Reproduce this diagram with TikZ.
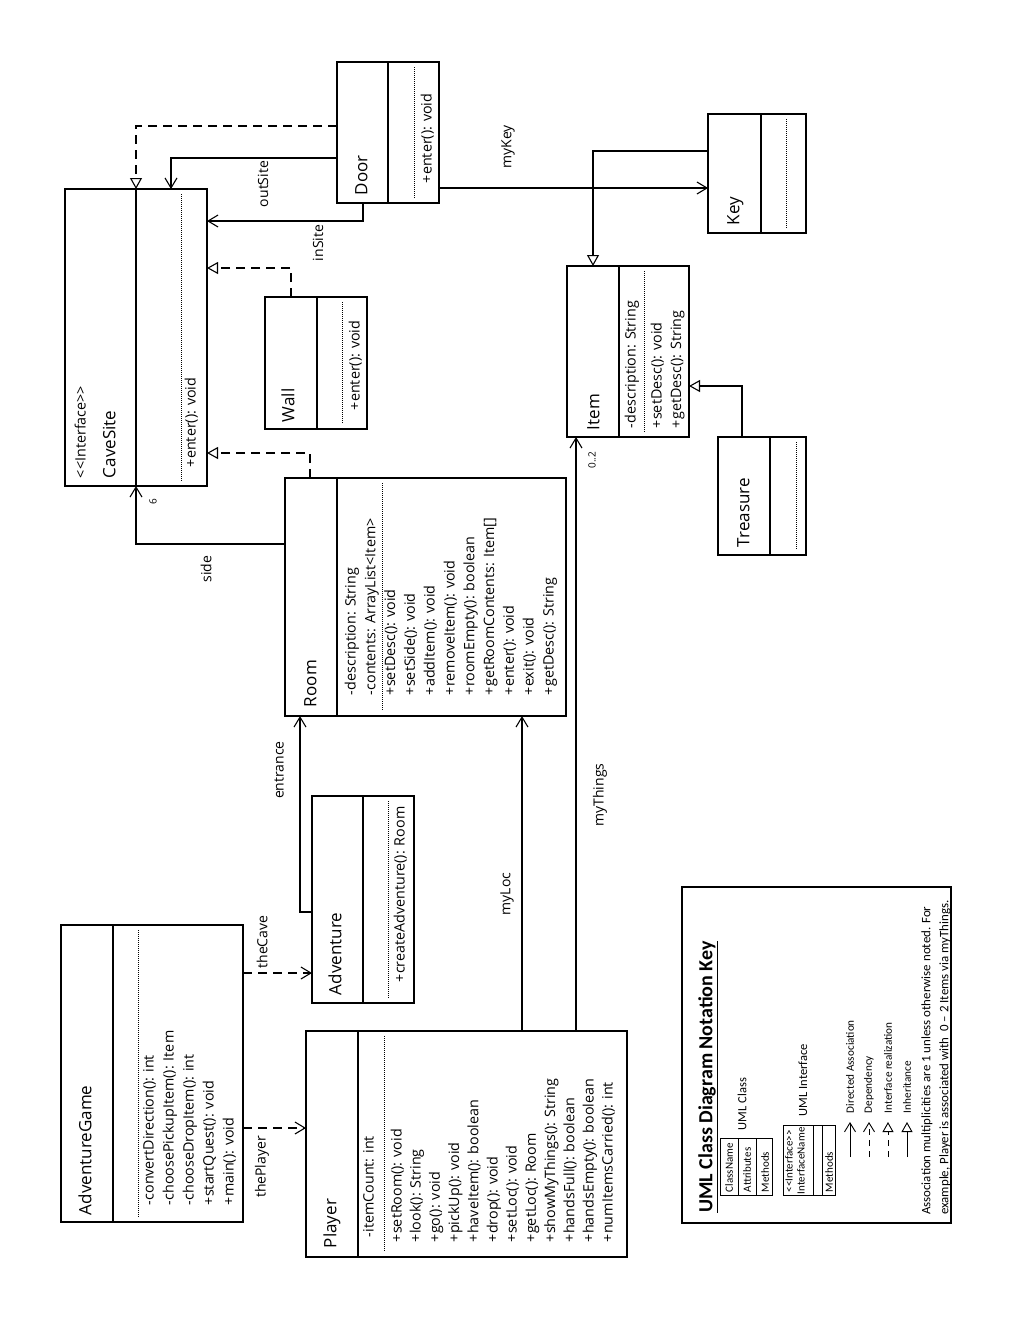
\documentclass[tikz,border=0pt]{standalone}
\usepackage{fontspec}
\setmainfont{Open Sans}
\newfontfamily\legendfont{Carlito}
\usetikzlibrary{arrows.meta}

\newcommand\umlbox[7]{%
  \node[box, anchor=north west, minimum width={(#4)-(#2)}, minimum height={(#5)-(#3)}] (#1) at (#2,#3) {};
  \draw[sepline] (#6,#3) -- (#6,#5);
  \draw[dotline] (#7,#3+5) -- (#7,#5-5);
}
\newcommand\tlines[5]{%
  \foreach \mytext [count=\myi] in {#5} {\node[txt] (#1\myi) at ({#2+(\myi-1)*(#3)},#4) {\mytext};}
}
\newcommand\ifc{<\kern0pt<Interface>\kern0pt>}

\begin{document}
\begin{tikzpicture}[x=1pt,y=-1pt,
  box/.style={draw, line width=1.2pt, rectangle, inner sep=0, outer sep=0},
  sepline/.style={line width=1.4pt},
  dotline/.style={line width=0.6pt, dash pattern=on 1pt off 1pt},
  txt/.style={rotate=90, anchor=west, inner sep=0, outer sep=0, font=\fontsize{14.3}{17}\selectfont, text height=10.5pt, text depth=3.5pt},
  nm/.style={rotate=90, anchor=west, inner sep=0, outer sep=0, font=\fontsize{17}{20}\selectfont, text height=12.5pt, text depth=4pt},
  lbl/.style={rotate=90, anchor=center, inner sep=0, font=\fontsize{14}{17}\selectfont},
  small/.style={rotate=90, anchor=center, inner sep=0, font=\fontsize{10}{12}\selectfont},
  assoc/.style={line width=1.1pt, -{Straight Barb[length=10pt,width=12pt]}},
  dep/.style={assoc, dash pattern=on 9pt off 6pt},
  real/.style={line width=1.1pt, dash pattern=on 9pt off 6pt, -{Triangle[open,length=11pt,width=12pt]}},
  inh/.style={line width=1.1pt, -{Triangle[open,length=11pt,width=12pt]}},
  ltxt/.style={rotate=90, anchor=west, inner sep=0, outer sep=0, font=\legendfont\fontsize{11.2}{13}\selectfont},
  lbox/.style={rotate=90, anchor=west, inner sep=0, outer sep=0, font=\legendfont\fontsize{11}{12}\selectfont},
]
\useasboundingbox (0,0) rectangle (1020,1320);
\fill[white] (0,0) rectangle (1020,1320);

% ---------- class boxes ----------
\umlbox{cavesite}{65}{189}{207}{486}{136}{181}
\node[txt] (cs1) at (82,478) {\ifc};
\node[nm] (cs2) at (111,478) {CaveSite};
\node[txt] (cs3) at (192,467) {+enter(): void};

\umlbox{door}{337}{62}{439}{203}{388}{414}
\node[nm] (doorn) at (363,195) {Door};
\node[txt] (doorm) at (428,183) {+enter(): void};

\umlbox{wall}{265}{297}{367}{429}{317}{342}
\node[nm] (walln) at (290,422) {Wall};
\node[txt] (wallm) at (356,410) {+enter(): void};

\umlbox{room}{285}{478}{566}{716}{337}{382}
\node[nm] (roomn) at (312,707) {Room};
\tlines{roomt}{352}{19.8}{695}{-description: String,-contents: ArrayList<Item>,+setDesc(): void,+setSide(): void,+addItem(): void,+removeItem(): void,+roomEmpty(): boolean,+getRoomContents: Item[],+enter(): void,+exit(): void,+getDesc(): String}

\umlbox{adventure}{312}{796}{414}{1003}{363}{388}
\node[nm] (advn) at (337,995) {Adventure};
\node[txt] (advm) at (401,982) {+createAdventure(): Room};

\umlbox{adventuregame}{61}{925}{243}{1222}{113}{138}
\node[nm] (agn) at (87,1215) {AdventureGame};
\tlines{agm}{150}{20}{1205}{-convertDirection(): int,-choosePickupItem(): Item,-chooseDropItem(): int,+startQuest(): void,+main(): void}

\umlbox{player}{306}{1031}{627}{1257}{358}{384}
\node[nm] (playern) at (332,1248) {Player};
\node[txt] (playera) at (370,1237) {-itemCount: int};
\tlines{playerm}{398}{19.2}{1242}{+setRoom(): void,+look(): String,+go(): void,+pickUp(): void,+haveItem(): boolean,+drop(): void,+setLoc(): void,+getLoc(): Room,+showMyThings(): String,+handsFull(): boolean,+handsEmpty(): boolean,+numItemsCarried(): int}

\umlbox{item}{567}{266}{689}{437}{619}{644}
\node[nm] (itemn) at (595,430) {Item};
\node[txt] (itema) at (632,428) {-description: String};
\tlines{itemm}{658}{19.5}{428}{+setDesc(): void,+getDesc(): String}

\umlbox{key}{708}{114}{806}{233}{761}{786}
\node[nm] (keyn) at (735,225) {Key};

\umlbox{treasure}{718}{437}{806}{555}{770}{796}
\node[nm] (treasuren) at (745,547) {Treasure};

% ---------- connectors ----------
\draw[real] ([yshift=-64pt]door.north west) -| ([xshift=71pt]cavesite.north west);
\draw[assoc] ([yshift=-96pt]door.north west) -| ([xshift=106pt]cavesite.north west);
\draw[assoc] ([xshift=26pt]door.south west) |- ([yshift=-32pt]cavesite.north east);
\draw[real] ([xshift=26pt]wall.north west) |- ([yshift=-79pt]cavesite.north east);
\draw[real] ([xshift=25pt]room.north west) |- ([yshift=-264pt]cavesite.north east);
\draw[assoc] ([yshift=-66pt]room.north west) -| ([xshift=71pt]cavesite.south west);
\draw[assoc] ([yshift=-116pt]adventure.north west) -| ([xshift=15pt]room.south west);
\draw[assoc] ([xshift=216pt]player.north west) -- ([xshift=237pt]room.south west);
\draw[assoc] ([xshift=270pt]player.north west) -- ([xshift=9pt]item.south west);
\draw[assoc] ([yshift=-126pt]door.north east) -- ([yshift=-74pt]key.north west);
\draw[inh] ([yshift=-37pt]key.north west) -| ([xshift=26pt]item.north west);
\draw[inh] ([xshift=24pt]treasure.north west) |- ([yshift=-120pt]item.north east);
\draw[dep] ([yshift=-48pt]adventuregame.north east) -- ([yshift=-177pt]adventure.north west);
\draw[dep] ([yshift=-203pt]adventuregame.north east) -- ([yshift=-97pt]player.north west);

% ---------- connector labels ----------
\node[lbl] (l-outsite) at (263,184) {outSite};
\node[lbl] (l-insite) at (318,243) {inSite};
\node[lbl] (l-mykey) at (508,147) {myKey};
\node[lbl] (l-side) at (206,569) {side};
\node[small] (l-six) at (153,502) {6};
\node[lbl] (l-entrance) at (279,770) {entrance};
\node[lbl] (l-thecave) at (262,942) {theCave};
\node[lbl] (l-theplayer) at (262,1167) {thePlayer};
\node[lbl] (l-myloc) at (507,894) {myLoc};
\node[lbl] (l-mythings) at (600,795) {myThings};
\node[small] (l-mult) at (592,460) {0..2};

% ---------- legend ----------
\node[box, anchor=north west, minimum width=269, minimum height=336] (legend) at (682,887) {};
\node[rotate=90, anchor=west, inner sep=0, font=\legendfont\bfseries\fontsize{20}{24}\selectfont] (ltitle) at (708,1213) {\underline{UML Class Diagram Notation Key}};

\node[box, line width=0.9pt, anchor=north west, minimum width=52, minimum height=57] (lclass) at (720,1138) {};
\draw[line width=0.9pt] (738,1138) -- (738,1195);
\draw[line width=0.9pt] (756,1138) -- (756,1195);
\node[lbox] (lc1) at (729,1192) {ClassName};
\node[lbox] (lc2) at (747,1192) {Attributes};
\node[lbox] (lc3) at (765,1192) {Methods};
\node[rotate=90, inner sep=0, font=\legendfont\fontsize{12.5}{15}\selectfont] (lclassl) at (742,1104) {UML Class};

\node[box, line width=0.9pt, anchor=north west, minimum width=52, minimum height=70] (liface) at (783,1125) {};
\draw[line width=0.9pt] (813,1125) -- (813,1195);
\draw[line width=0.9pt] (822,1125) -- (822,1195);
\node[lbox] (li1) at (789,1192) {\ifc};
\node[lbox] (li2) at (801,1194) {InterfaceName};
\node[lbox] (li3) at (829,1192) {Methods};
\node[rotate=90, inner sep=0, font=\legendfont\fontsize{12.5}{15}\selectfont] (lifacel) at (803,1080) {UML Interface};

\coordinate (la1s) at (850,1157); \coordinate (la1e) at (850,1122);
\coordinate (la2s) at (869,1157); \coordinate (la2e) at (869,1122);
\coordinate (la3s) at (888,1157); \coordinate (la3e) at (888,1122);
\coordinate (la4s) at (907,1157); \coordinate (la4e) at (907,1122);
\draw[line width=0.9pt, -{Straight Barb[length=9pt,width=11pt]}] (la1s) -- (la1e);
\draw[line width=0.9pt, dash pattern=on 6pt off 5pt, -{Straight Barb[length=9pt,width=11pt]}] (la2s) -- (la2e);
\draw[line width=0.9pt, dash pattern=on 6pt off 5pt, -{Triangle[open,length=10pt,width=11pt]}] (la3s) -- (la3e);
\draw[line width=0.9pt, -{Triangle[open,length=10pt,width=11pt]}] (la4s) -- (la4e);
\node[ltxt] (la1t) at (850,1113) {Directed Association};
\node[ltxt] (la2t) at (869,1113) {Dependency};
\node[ltxt] (la3t) at (888,1113) {Interface realization};
\node[ltxt] (la4t) at (907,1113) {Inheritance};

\node[rotate=90, anchor=west, inner sep=0, font=\legendfont\fontsize{12.9}{15}\selectfont] (lnote1) at (927,1215) {Association multiplicities are 1 unless otherwise noted. For};
\node[rotate=90, anchor=west, inner sep=0, font=\legendfont\fontsize{12.9}{15}\selectfont] (lnote2) at (945,1215) {example, Player is associated with~~0 – 2 Items via myThings.};
\end{tikzpicture}
\end{document}
